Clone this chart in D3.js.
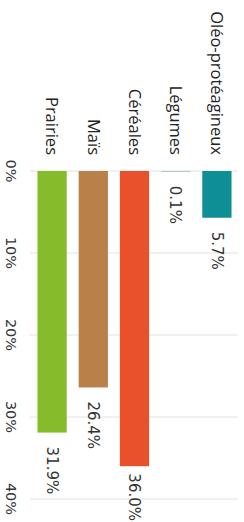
<!DOCTYPE html>
<html>
<head>
<meta charset="utf-8">
<script src="https://cdn.jsdelivr.net/npm/d3@7.9.0/dist/d3.min.js"></script>
<style>
  html, body { margin: 0; padding: 0; background: #fff; }
  svg { display: block; }
</style>
</head>
<body>
<div id="chart"></div>
<script>
// data (order as drawn, top to bottom in the unrotated chart)
const categories = ['Oléo-protéagineux', 'Légumes', 'Céréales', 'Maïs', 'Prairies'];
const values = [5.7, 0.1, 36.0, 26.4, 31.9];
const colors = ['#0e8e95', '#9fc2c4', '#e9512d', '#b9804a', '#86bc2c'];
const ticks = [0, 10, 20, 30, 40];

const width = 244;
const height = 522;

const svg = d3.select('#chart')
  .append('svg')
  .attr('width', width)
  .attr('height', height);

// chart is drawn as a horizontal bar chart, then turned 90deg clockwise
const g = svg.append('g')
  .attr('transform', `translate(${width}, 0) rotate(90)`);

const xScale = d3.scaleLinear().domain([0, 40]).range([171, 499]);
const yScale = d3.scaleBand()
  .domain(categories)
  .range([6.5, 212.5])
  .paddingInner(0.29)
  .paddingOuter(0.145);

// gridlines
g.append('g')
  .attr('class', 'gridlines')
  .selectAll('line')
  .data(ticks)
  .join('line')
  .attr('x1', (d) => xScale(d))
  .attr('x2', (d) => xScale(d))
  .attr('y1', 6)
  .attr('y2', 214)
  .attr('stroke', '#e2e2e2')
  .attr('stroke-width', 1);

// tick labels
g.append('g')
  .selectAll('text')
  .data(ticks)
  .join('text')
  .attr('x', (d) => xScale(d))
  .attr('y', 233)
  .attr('dy', '0.35em')
  .attr('text-anchor', 'middle')
  .style('font-family', '"DejaVu Sans", sans-serif')
  .style('font-size', '14.5px')
  .attr('fill', '#333')
  .text((d) => d + '%');

const rows = categories.map((c, i) => ({ cat: c, value: values[i], color: colors[i] }));

// bars
g.append('g')
  .selectAll('rect')
  .data(rows)
  .join('rect')
  .attr('x', xScale(0))
  .attr('y', (d) => yScale(d.cat))
  .attr('width', (d) => xScale(d.value) - xScale(0))
  .attr('height', yScale.bandwidth())
  .attr('fill', (d) => d.color);

// category labels
g.append('g')
  .selectAll('text')
  .data(rows)
  .join('text')
  .attr('x', xScale(0) - 16)
  .attr('y', (d) => yScale(d.cat) + yScale.bandwidth() / 2)
  .attr('dy', '0.35em')
  .attr('text-anchor', 'end')
  .style('font-family', '"Open Sans", sans-serif')
  .style('font-size', '16.5px')
  .attr('fill', '#222')
  .text((d) => d.cat);

// value labels (kept inside the picture)
const fmt = d3.format('.1f');
g.append('g')
  .selectAll('text')
  .data(rows)
  .join('text')
  .attr('y', (d) => yScale(d.cat) + yScale.bandwidth() / 2)
  .attr('dy', '0.35em')
  .attr('text-anchor', 'start')
  .style('font-family', '"DejaVu Sans", sans-serif')
  .style('font-size', '15px')
  .attr('fill', '#333')
  .text((d) => fmt(d.value) + '%')
  .attr('x', function (d) {
    const len = this.getComputedTextLength();
    return Math.min(xScale(d.value) + 14, height - 1 - len);
  });
</script>
</body>
</html>
